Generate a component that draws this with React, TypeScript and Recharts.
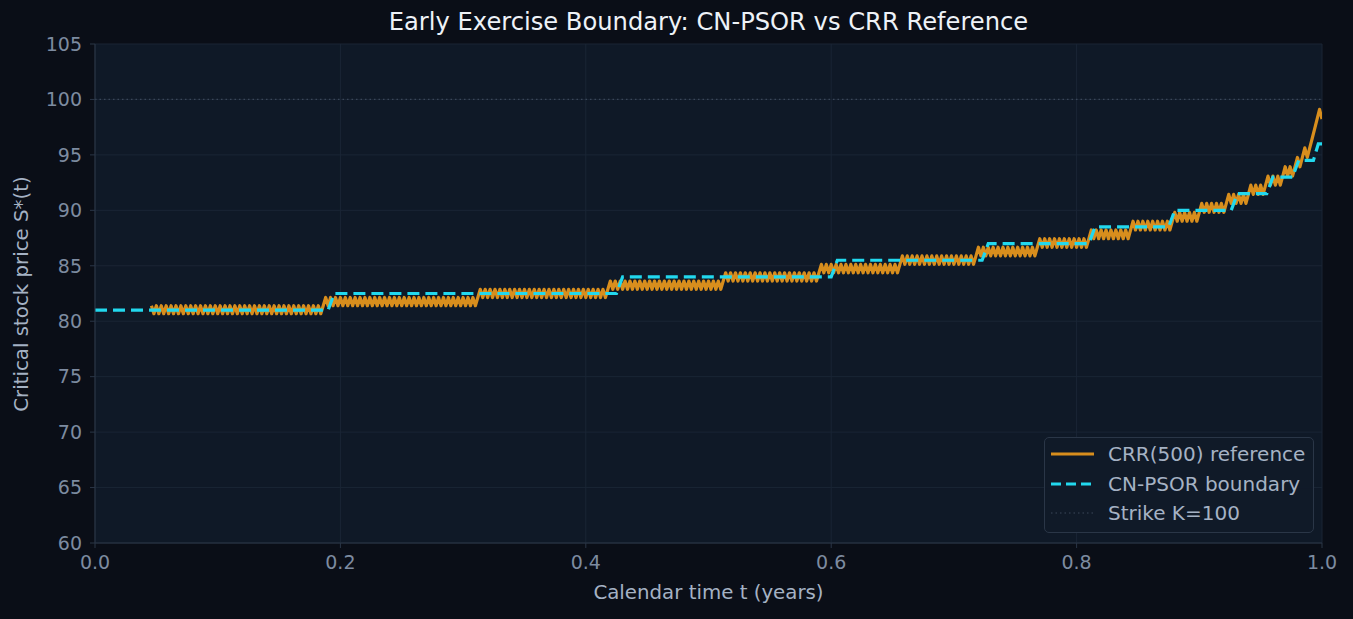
import { LineChart, Line, XAxis, YAxis, CartesianGrid, ReferenceLine } from "recharts";

const W = 1353;
const H = 619;

const xTicks = [0, 0.2, 0.4, 0.6, 0.8, 1.0];
const yTicks = [60, 65, 70, 75, 80, 85, 90, 95, 100, 105];
const strike = 100;

const crrName = "CRR(500) reference";
const psorName = "CN-PSOR boundary";
const strikeName = "Strike K=100";

// CN-PSOR boundary: vertices of the stepped curve (the S grid is 1.5 apart)
const psorT = [0, 0.19, 0.195, 0.425, 0.43, 0.6, 0.605, 0.723, 0.728, 0.81, 0.815, 0.875, 0.88, 0.926, 0.931, 0.955, 0.96, 0.976, 0.981, 0.993, 0.997, 1.0];
const psorS = [81, 81, 82.5, 82.5, 84, 84, 85.5, 85.5, 87, 87, 88.5, 88.5, 90, 90, 91.5, 91.5, 93, 93, 94.5, 94.5, 96, 96];

// CRR tree: boundary node price at every step from step 23 to 500
// (odd and even steps sit on different lattices, hence the zig-zag)
const crrSteps = 500;
const crrFirstStep = 23;
const crrS = [
  81.4, 80.68, 81.4, 80.68, 81.4, 80.68, 81.4, 80.68, 81.4, 80.68, 81.4, 80.68, 81.4, 80.68, 81.4, 80.68, 81.4, 80.68, 81.4, 80.68,
  81.4, 80.68, 81.4, 80.68, 81.4, 80.68, 81.4, 80.68, 81.4, 80.68, 81.4, 80.68, 81.4, 80.68, 81.4, 80.68, 81.4, 80.68, 81.4, 80.68,
  81.4, 80.68, 81.4, 80.68, 81.4, 80.68, 81.4, 80.68, 81.4, 80.68, 81.4, 80.68, 81.4, 80.68, 81.4, 80.68, 81.4, 80.68, 81.4, 80.68,
  81.4, 80.68, 81.4, 80.68, 81.4, 80.68, 81.4, 80.68, 81.4, 80.68,
  81.4, 82.14, 81.4, 82.14, 81.4, 82.14, 81.4, 82.14, 81.4, 82.14, 81.4, 82.14, 81.4, 82.14, 81.4, 82.14, 81.4, 82.14, 81.4, 82.14,
  81.4, 82.14, 81.4, 82.14, 81.4, 82.14, 81.4, 82.14, 81.4, 82.14, 81.4, 82.14, 81.4, 82.14, 81.4, 82.14, 81.4, 82.14, 81.4, 82.14,
  81.4, 82.14, 81.4, 82.14, 81.4, 82.14, 81.4, 82.14, 81.4, 82.14, 81.4, 82.14, 81.4, 82.14, 81.4, 82.14, 81.4, 82.14, 81.4, 82.14,
  81.4, 82.14, 81.4, 82.14,
  82.88, 82.14, 82.88, 82.14, 82.88, 82.14, 82.88, 82.14, 82.88, 82.14, 82.88, 82.14, 82.88, 82.14, 82.88, 82.14, 82.88, 82.14, 82.88, 82.14,
  82.88, 82.14, 82.88, 82.14, 82.88, 82.14, 82.88, 82.14, 82.88, 82.14, 82.88, 82.14, 82.88, 82.14, 82.88, 82.14, 82.88, 82.14, 82.88, 82.14,
  82.88, 82.14, 82.88, 82.14, 82.88, 82.14, 82.88, 82.14, 82.88, 82.14, 82.88, 82.14,
  82.88, 83.62, 82.88, 83.62, 82.88, 83.62, 82.88, 83.62, 82.88, 83.62, 82.88, 83.62, 82.88, 83.62, 82.88, 83.62, 82.88, 83.62, 82.88, 83.62,
  82.88, 83.62, 82.88, 83.62, 82.88, 83.62, 82.88, 83.62, 82.88, 83.62, 82.88, 83.62, 82.88, 83.62, 82.88, 83.62, 82.88, 83.62, 82.88, 83.62,
  82.88, 83.62, 82.88, 83.62, 82.88, 83.62, 82.88,
  83.62, 84.37, 83.62, 84.37, 83.62, 84.37, 83.62, 84.37, 83.62, 84.37, 83.62, 84.37, 83.62, 84.37, 83.62, 84.37, 83.62, 84.37, 83.62, 84.37,
  83.62, 84.37, 83.62, 84.37, 83.62, 84.37, 83.62, 84.37, 83.62, 84.37, 83.62, 84.37, 83.62, 84.37, 83.62, 84.37, 83.62, 84.37, 83.62,
  84.37, 85.13, 84.37, 85.13, 84.37, 85.13, 84.37, 85.13, 84.37, 85.13, 84.37, 85.13, 84.37, 85.13, 84.37, 85.13, 84.37, 85.13, 84.37, 85.13,
  84.37, 85.13, 84.37, 85.13, 84.37, 85.13, 84.37, 85.13, 84.37, 85.13, 84.37, 85.13, 84.37, 85.13,
  85.89, 85.13, 85.89, 85.13, 85.89, 85.13, 85.89, 85.13, 85.89, 85.13, 85.89, 85.13, 85.89, 85.13, 85.89, 85.13, 85.89, 85.13, 85.89, 85.13,
  85.89, 85.13, 85.89, 85.13, 85.89, 85.13, 85.89, 85.13, 85.89, 85.13,
  85.89, 86.67, 85.89, 86.67, 85.89, 86.67, 85.89, 86.67, 85.89, 86.67, 85.89, 86.67, 85.89, 86.67, 85.89, 86.67, 85.89, 86.67, 85.89, 86.67,
  85.89, 86.67, 85.89, 86.67, 85.89,
  86.67, 87.44, 86.67, 87.44, 86.67, 87.44, 86.67, 87.44, 86.67, 87.44, 86.67, 87.44, 86.67, 87.44, 86.67, 87.44, 86.67, 87.44, 86.67, 87.44,
  86.67,
  87.44, 88.23, 87.44, 88.23, 87.44, 88.23, 87.44, 88.23, 87.44, 88.23, 87.44, 88.23, 87.44, 88.23, 87.44, 88.23, 87.44, 88.23,
  89.02, 88.23, 89.02, 88.23, 89.02, 88.23, 89.02, 88.23, 89.02, 88.23, 89.02, 88.23, 89.02, 88.23, 89.02, 88.23,
  89.02, 89.82, 89.02, 89.82, 89.02, 89.82, 89.02, 89.82, 89.02, 89.82, 89.02,
  89.82, 90.63, 89.82, 90.63, 89.82, 90.63, 89.82, 90.63, 89.82, 90.63, 89.82,
  90.63, 91.44, 90.63, 91.44, 90.63, 91.44, 90.63, 91.44, 90.63,
  91.44, 92.27, 91.44, 92.27, 91.44, 92.27, 91.44, 92.27,
  93.09, 92.27, 93.09, 92.27, 93.09, 92.27,
  93.09, 93.93, 93.09, 93.93, 93.09,
  93.93, 94.77, 93.93,
  94.77, 95.63, 94.77,
  95.63, 96.48, 97.35, 98.23, 99.11, 98.23,
];

const crrData = crrS.map((s, i) => ({ t: (crrFirstStep + i) / crrSteps, s }));
const psorData = psorT.map((t, i) => ({ t, s: psorS[i] }));

const BG = "#0a0e17";
const PLOT_BG = "#0f1927";
const GRID = "#1a2535";
const SPINE = "#2a3647";
const TICK_TEXT = "#7d8ba0";
const LABEL_TEXT = "#a5b2c4";
const ORANGE = "#d88e1d";
const CYAN = "#22d8ee";
const STRIKE = "#3a4759";
const FONT = "'DejaVu Sans', sans-serif";

const plot = { left: 95, top: 44, right: 1322, bottom: 543 };

function LegendBox() {
  const rows = [
    { name: crrName, stroke: ORANGE, dash: undefined, width: 3 },
    { name: psorName, stroke: CYAN, dash: "10 5", width: 3 },
    { name: strikeName, stroke: STRIKE, dash: "1.5 3", width: 1.2 },
  ];
  return (
    <div
      style={{
        position: "absolute",
        left: 1044,
        top: 437,
        width: 268,
        height: 94,
        border: `1px solid ${SPINE}`,
        borderRadius: 5,
        background: "rgba(16,26,40,0.92)",
        fontFamily: FONT,
        fontSize: 20,
        color: LABEL_TEXT,
      }}
    >
      {rows.map((r, i) => (
        <div
          key={r.name}
          style={{ position: "absolute", left: 0, top: 4 + i * 29.5, height: 24, display: "flex", alignItems: "center" }}
        >
          <svg width={60} height={24} style={{ display: "block" }}>
            <line x1={6} x2={49} y1={12} y2={12} stroke={r.stroke} strokeWidth={r.width} strokeDasharray={r.dash} />
          </svg>
          <span style={{ marginLeft: 3, whiteSpace: "nowrap" }}>{r.name}</span>
        </div>
      ))}
    </div>
  );
}

export default function App() {
  return (
    <div style={{ position: "absolute", left: 0, top: 0, width: W, height: H, background: BG, overflow: "hidden" }}>
      <LineChart
        width={W}
        height={H}
        margin={{ top: plot.top, right: W - plot.right, bottom: 0, left: 0 }}
        style={{ fontFamily: FONT }}
      >
        <CartesianGrid fill={PLOT_BG} stroke={GRID} strokeWidth={1} />
        <XAxis
          dataKey="t"
          type="number"
          domain={[0, 1]}
          ticks={xTicks}
          tickFormatter={(v: number) => v.toFixed(1)}
          height={H - plot.bottom}
          stroke={SPINE}
          tickSize={5}
          tickMargin={8}
          tick={{ fill: TICK_TEXT, fontSize: 19 }}
          allowDataOverflow
        />
        <YAxis
          type="number"
          domain={[60, 105]}
          ticks={yTicks}
          width={plot.left}
          stroke={SPINE}
          tickSize={5}
          tickMargin={8}
          tick={{ fill: TICK_TEXT, fontSize: 19 }}
          allowDataOverflow
        />
        <ReferenceLine y={strike} stroke={STRIKE} strokeWidth={1.2} strokeDasharray="1.5 3" />
        <Line
          data={crrData}
          dataKey="s"
          name={crrName}
          type="linear"
          stroke={ORANGE}
          strokeWidth={3.2}
          strokeLinejoin="round"
          dot={false}
          isAnimationActive={false}
        />
        <Line
          data={psorData}
          dataKey="s"
          name={psorName}
          type="linear"
          stroke={CYAN}
          strokeWidth={3.2}
          strokeDasharray="12 6"
          dot={false}
          isAnimationActive={false}
        />
      </LineChart>

      <div
        style={{
          position: "absolute",
          left: plot.left,
          width: plot.right - plot.left,
          top: 8,
          lineHeight: "28px",
          textAlign: "center",
          fontFamily: FONT,
          fontSize: 24.2,
          color: "#eef2f7",
        }}
      >
        Early Exercise Boundary: CN-PSOR vs CRR Reference
      </div>
      <div
        style={{
          position: "absolute",
          left: plot.left,
          width: plot.right - plot.left,
          top: 581,
          lineHeight: "24px",
          textAlign: "center",
          fontFamily: FONT,
          fontSize: 19.8,
          color: LABEL_TEXT,
        }}
      >
        Calendar time t (years)
      </div>
      <div
        style={{
          position: "absolute",
          left: 22 - 250,
          top: (plot.top + plot.bottom) / 2 - 12,
          width: 500,
          lineHeight: "24px",
          textAlign: "center",
          transform: "rotate(-90deg)",
          fontFamily: FONT,
          fontSize: 19.8,
          color: LABEL_TEXT,
        }}
      >
        Critical stock price S*(t)
      </div>
      <LegendBox />
    </div>
  );
}
